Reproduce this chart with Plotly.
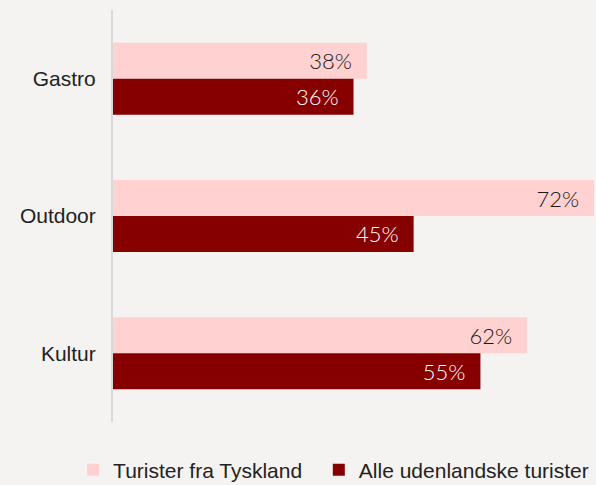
import plotly.graph_objects as go

categories = ["Gastro", "Outdoor", "Kultur"]
tyskland = [38, 72, 62]
alle = [36, 45, 55]
series_names = ["Turister fra Tyskland", "Alle udenlandske turister"]

bg = "#F5F3F1"
pad = "\u00a0\u00a0"
fig = go.Figure()
fig.add_trace(go.Bar(
    y=categories, x=tyskland, name=series_names[0] + "\u00a0\u00a0", orientation="h",
    marker=dict(color="#FFD1D1", line=dict(width=0)),
    text=[f"{v}%{pad}" for v in tyskland], textposition="inside", insidetextanchor="end",
    textfont=dict(family="Lato", size=22, color="#1A1A1A", weight=300),
    hoverinfo="skip",
))
fig.add_trace(go.Bar(
    y=categories, x=alle, name=series_names[1], orientation="h",
    marker=dict(color="#870000", line=dict(width=0)),
    text=[f"{v}%{pad}" for v in alle], textposition="inside", insidetextanchor="end",
    textfont=dict(family="Lato", size=22, color="#FFFFFF", weight=300),
    hoverinfo="skip",
))
fig.update_layout(
    width=596, height=485,
    margin=dict(l=113, r=2, t=10, b=63, autoexpand=False),
    paper_bgcolor=bg, plot_bgcolor=bg,
    barmode="group", bargap=0.476, bargroupgap=0,
    uniformtext=dict(mode=False),
    font=dict(family="Liberation Sans, Arial", size=21, color="#222222"),
    showlegend=True,
    legend=dict(orientation="h", x=-0.083, xanchor="left", y=-0.1165, yanchor="middle",
                font=dict(size=21, color="#222222"), itemwidth=30,
                bgcolor="rgba(0,0,0,0)", traceorder="normal"),
    xaxis=dict(range=[0, 72], showgrid=False, zeroline=False, showticklabels=False,
               showline=False, fixedrange=True),
    yaxis=dict(autorange="reversed", showgrid=False, zeroline=False,
               showline=True, linecolor="#D9D9D9", linewidth=2,
               ticks="", ticklabelstandoff=11, fixedrange=True,
               tickfont=dict(family="Liberation Sans, Arial", size=21, color="#222222")),
)
fig.write_html("out.html", post_script="document.body.style.margin='0';",
               config={"displayModeBar": False})
